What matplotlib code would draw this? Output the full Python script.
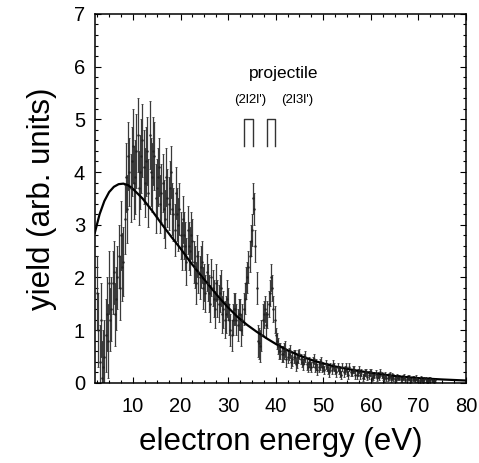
import numpy as np
import matplotlib.pyplot as plt
from matplotlib.ticker import MultipleLocator

plt.rcParams['font.family'] = ['Liberation Sans', 'DejaVu Sans']

# measured spectrum, 0.25 eV grid from 2.5 to 73.5 eV (one row = 2.5 eV)
energy = np.arange(2.5, 73.75, 0.25)
yield_vals = [
    1.7, 1.0, 0.4, 1.2, 0.1, 0.3, 0.5, 0.9, 1.3, 0.8,          # 2.5
    1.9, 1.2, 1.4, 1.9, 2.1, 1.3, 1.6, 2.0, 2.4, 1.8,          # 5.0
    2.8, 2.2, 2.3, 3.1, 3.9, 3.3, 4.3, 4.0, 3.7, 4.2,          # 7.5
    4.5, 3.8, 3.9, 4.4, 4.7, 3.7, 4.0, 4.3, 4.6, 4.1,          # 10.0
    3.8, 4.2, 4.4, 3.6, 4.7, 4.0, 3.9, 4.4, 4.3, 3.5,          # 12.5
    3.7, 3.9, 4.1, 3.4, 3.6, 3.8, 3.3, 3.1, 3.9, 3.5,          # 15.0
    3.4, 3.7, 4.0, 3.3, 3.2, 2.9, 3.6, 3.2, 3.0, 3.3,          # 17.5
    2.8, 2.6, 3.1, 2.8, 2.6, 2.3, 2.9, 2.6, 2.5, 2.8,          # 20.0
    2.7, 2.3, 2.2, 1.9, 2.4, 2.1, 2.0, 2.2, 2.3, 1.8,          # 22.5
    1.9, 1.7, 2.1, 1.9, 1.7, 1.5, 2.0, 1.8, 1.6, 1.4,          # 25.0
    1.9, 1.6, 1.5, 1.7, 1.8, 1.3, 1.4, 1.2, 1.3, 1.6,          # 27.5
    1.5, 1.2, 1.0, 0.9, 1.2, 1.4, 1.4, 1.2, 1.1, 1.3,          # 30.0
    1.3, 1.0, 1.2, 1.4, 1.6, 1.9, 2.0, 2.2, 2.4, 2.7,          # 32.5
    2.9, 3.5, 3.3, 2.6, 1.8, 0.8, 0.75, 0.7, 0.9, 1.2,         # 35.0
    1.3, 1.4, 1.1, 1.3, 1.5, 1.7, 2.0, 1.8, 1.4, 1.2,          # 37.5
    0.9, 0.8, 0.7, 0.6, 0.6, 0.55, 0.55, 0.6, 0.65, 0.45,      # 40.0
    0.5, 0.55, 0.6, 0.4, 0.45, 0.5, 0.5, 0.35, 0.4, 0.5,       # 42.5
    0.55, 0.45, 0.4, 0.35, 0.45, 0.5, 0.35, 0.3, 0.4, 0.35,    # 45.0
    0.3, 0.4, 0.45, 0.3, 0.35, 0.25, 0.3, 0.35, 0.4, 0.3,      # 47.5
    0.3, 0.25, 0.35, 0.3, 0.25, 0.2, 0.3, 0.25, 0.35, 0.3,     # 50.0
    0.25, 0.2, 0.3, 0.25, 0.2, 0.15, 0.3, 0.2, 0.25, 0.3,      # 52.5
    0.2, 0.15, 0.3, 0.2, 0.2, 0.25, 0.25, 0.15, 0.15, 0.2,     # 55.0
    0.25, 0.15, 0.2, 0.1, 0.15, 0.2, 0.2, 0.12, 0.15, 0.2,     # 57.5
    0.2, 0.1, 0.12, 0.15, 0.18, 0.1, 0.15, 0.12, 0.2, 0.15,    # 60.0
    0.12, 0.08, 0.15, 0.1, 0.1, 0.12, 0.15, 0.08, 0.12, 0.1,   # 62.5
    0.08, 0.06, 0.12, 0.1, 0.1, 0.07, 0.07, 0.1, 0.12, 0.06,   # 65.0
    0.08, 0.1, 0.1, 0.05, 0.06, 0.08, 0.08, 0.06, 0.1, 0.07,   # 67.5
    0.06, 0.04, 0.08, 0.06, 0.05, 0.07, 0.07, 0.04, 0.05, 0.06,  # 70.0
    0.08, 0.05, 0.05, 0.04, 0.06,                              # 72.5
]
# error bar half-length, one value per 2.5 eV row above
row_err = [0.7, 0.6, 0.65, 0.7, 0.65, 0.55, 0.5, 0.45, 0.4, 0.35,
           0.35, 0.3, 0.3, 0.3, 0.25, 0.15, 0.12, 0.1, 0.1, 0.08,
           0.08, 0.07, 0.07, 0.06, 0.06, 0.05, 0.05, 0.05, 0.04]
yield_err = np.repeat(row_err, 10)[:len(yield_vals)]

# fitted continuum
fit_energy = [2, 3, 4, 5, 6, 7, 8, 9, 10, 12, 14, 16, 18, 20, 22, 24, 26, 28,
              30, 32, 34, 36, 38, 40, 42, 45, 48, 52, 56, 60, 65, 70, 75, 80]
fit_yield = [2.85, 3.2, 3.45, 3.62, 3.72, 3.77, 3.78, 3.75, 3.68, 3.5, 3.27,
             3.02, 2.78, 2.55, 2.3, 2.07, 1.85, 1.63, 1.43, 1.25, 1.1, 0.97,
             0.85, 0.74, 0.64, 0.52, 0.42, 0.32, 0.25, 0.19, 0.13, 0.09,
             0.065, 0.045]

# projectile line markers
marker_ranges = [(33.4, 35.3), (38.1, 39.8)]
marker_labels = ["(2l2l')", "(2l3l')"]
marker_label_x = [34.7, 44.5]

fig = plt.figure(figsize=(4.79, 4.63), dpi=100)
ax = fig.add_axes([0.198, 0.173, 0.775, 0.797])

ax.errorbar(energy, yield_vals, yerr=yield_err, fmt='.', ms=1.5,
            color='#222222', ecolor='#3a3a3a', elinewidth=0.9, capsize=0.8,
            capthick=0.6)
ax.plot(fit_energy, fit_yield, color='black', lw=1.6)

for (x0, x1) in marker_ranges:
    ax.plot([x0, x0, x1, x1], [4.5, 5.0, 5.0, 4.5], color='#333333', lw=1.0)
for lab, lx in zip(marker_labels, marker_label_x):
    ax.text(lx, 5.36, lab, ha='center', va='center', fontsize=9.5)
ax.text(41.7, 5.86, 'projectile', ha='center', va='center', fontsize=12.5)

ax.set_xlim(2, 80)
ax.set_ylim(0, 7)
ax.set_xticks(range(10, 81, 10))
ax.set_yticks(range(0, 8))
ax.xaxis.set_minor_locator(MultipleLocator(2.5))
ax.yaxis.set_minor_locator(MultipleLocator(0.2))
ax.tick_params(which='both', direction='in', top=True, right=True,
               labelsize=14.5, width=0.8)
ax.tick_params(which='major', length=4.5)
ax.tick_params(axis='x', which='major', pad=10)
ax.tick_params(axis='y', which='major', pad=7)
ax.tick_params(which='minor', length=2.2)
for s in ax.spines.values():
    s.set_linewidth(1.1)

ax.set_xlabel('electron energy (eV)', fontsize=22.5, labelpad=8)
ax.set_ylabel('yield (arb. units)', fontsize=22.5, labelpad=12)

fig.savefig('out.png', dpi=100)
